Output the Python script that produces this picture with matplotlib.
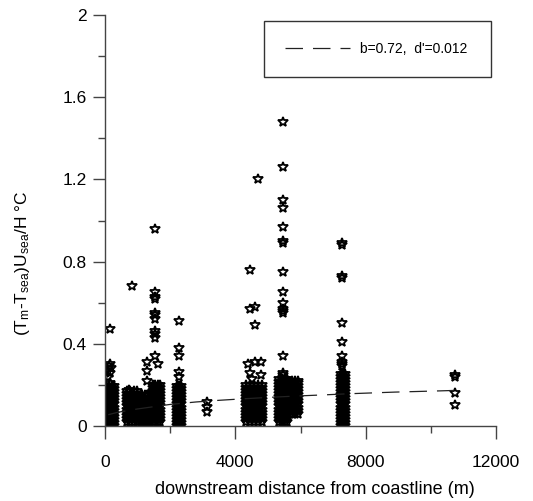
import numpy as np
import matplotlib.pyplot as plt

plt.rcParams['font.family'] = ['Liberation Sans', 'DejaVu Sans']
plt.rcParams['mathtext.fontset'] = 'custom'
plt.rcParams['mathtext.rm'] = 'Liberation Sans'
plt.rcParams['mathtext.it'] = 'Liberation Sans'

# dense bands of stars: x positions (m) and the values stacked at each
band_x_a = [40, 120, 200, 280]
band_y_a = [0.0, 0.015, 0.03, 0.045, 0.06, 0.075, 0.09, 0.105, 0.12, 0.135, 0.15, 0.165, 0.18, 0.195]
band_x_b = [680, 780, 880, 980]
band_y_b = [0.02, 0.035, 0.05, 0.065, 0.08, 0.095, 0.11, 0.125, 0.14, 0.155, 0.17]
band_x_c = [1150, 1240, 1330]
band_y_c = [0.0, 0.015, 0.03, 0.045, 0.06, 0.075, 0.09, 0.105, 0.12, 0.135, 0.15]
band_x_d = [1460, 1540, 1620, 1700]
band_y_d = [0.02, 0.035, 0.05, 0.065, 0.08, 0.095, 0.11, 0.125, 0.14, 0.155, 0.17, 0.185, 0.2]
band_x_e = [2200, 2270, 2340]
band_y_e = [0.0, 0.015, 0.03, 0.045, 0.06, 0.075, 0.09, 0.105, 0.12, 0.135, 0.15, 0.165, 0.18, 0.195]
band_x_g = [4330, 4450, 4570, 4690, 4810]
band_y_g = [0.02, 0.035, 0.05, 0.065, 0.08, 0.095, 0.11, 0.125, 0.14, 0.155, 0.17, 0.185, 0.2]
band_x_i = [5330, 5420, 5510, 5600]
band_y_i = [0.02, 0.035, 0.05, 0.065, 0.08, 0.095, 0.11, 0.125, 0.14, 0.155, 0.17, 0.185, 0.2, 0.215, 0.23]
band_x_k = [5750, 5830, 5910]
band_y_k = [0.06, 0.075, 0.09, 0.105, 0.12, 0.135, 0.15, 0.165, 0.18, 0.195, 0.21, 0.22]
band_x_j = [7240, 7300, 7360]
band_y_j = [0.0, 0.015, 0.03, 0.045, 0.06, 0.075, 0.09, 0.105, 0.12, 0.135, 0.15, 0.165, 0.18, 0.195,
            0.21, 0.225, 0.24, 0.255]

# single stars sitting above the bands
single_x = [150, 150, 100, 150, 100, 180, 120, 150,
            830, 750,
            1280, 1280, 1280, 1280,
            1530, 1530, 1530, 1530, 1530, 1530, 1530, 1530, 1530, 1530, 1530, 1620,
            2260, 2260, 2260, 2260, 2260,
            3120, 3120, 3120,
            4450, 4450, 4600, 4600, 4400, 4450, 4600, 4780, 4780, 4700, 4500,
            5450, 5450, 5450, 5450, 5450, 5450, 5450, 5450, 5450, 5450, 5450, 5450, 5450, 5450, 5450, 5450,
            7280, 7280, 7280, 7280, 7280, 7280, 7280, 7280, 7280, 7280,
            10750, 10750, 10750, 10750]
single_y = [0.47, 0.21, 0.24, 0.26, 0.27, 0.28, 0.29, 0.30,
            0.68, 0.175,
            0.31, 0.27, 0.22, 0.15,
            0.43, 0.45, 0.46, 0.52, 0.54, 0.55, 0.62, 0.63, 0.65, 0.96, 0.34, 0.30,
            0.24, 0.265, 0.34, 0.38, 0.51,
            0.117, 0.094, 0.068,
            0.76, 0.57, 0.58, 0.49, 0.30, 0.26, 0.31, 0.31, 0.25, 1.2, 0.23,
            0.25, 0.26, 0.34, 0.55, 0.56, 0.57, 0.60, 0.65, 0.75, 0.89, 0.90, 0.97, 1.06, 1.10, 1.26, 1.48,
            0.29, 0.30, 0.31, 0.34, 0.41, 0.5, 0.72, 0.73, 0.88, 0.89,
            0.25, 0.24, 0.16, 0.10]

# fitted curve
fit_x = [100, 400, 1000, 2000, 2800, 3500, 4200, 5000, 5900, 6800, 7500, 8200, 8900, 9600, 10300, 10700]
fit_y = [0.055, 0.067, 0.083, 0.105, 0.117, 0.125, 0.132, 0.139, 0.146, 0.152, 0.157, 0.161, 0.165,
         0.168, 0.171, 0.173]

bands = [(band_x_a, band_y_a), (band_x_b, band_y_b), (band_x_c, band_y_c), (band_x_d, band_y_d),
         (band_x_e, band_y_e), (band_x_g, band_y_g), (band_x_i, band_y_i), (band_x_k, band_y_k),
         (band_x_j, band_y_j)]
px, py = [], []
for bx, by in bands:
    for xv in bx:
        for yv in by:
            px.append(xv)
            py.append(yv)
px = px + single_x
py = py + single_y

fig = plt.figure(figsize=(5.33, 5.01), dpi=100)
ax = fig.add_axes([105/533, 75/501, 391/533, 411/501])

ax.plot(px, py, ls='none', marker='*', ms=7.5, mfc='none', mec='black', mew=1.3)
ax.plot(fit_x, fit_y, color='#222222', lw=0.9, dashes=(14, 8), label="b=0.72,  d'=0.012")

ax.set_xlim(0, 12000)
ax.set_ylim(0, 2)
ax.set_xticks([0, 4000, 8000, 12000])
ax.set_xticks([2000, 6000, 10000], minor=True)
ax.set_yticks([0, 0.4, 0.8, 1.2, 1.6, 2])
ax.set_yticklabels(['0', '0.4', '0.8', '1.2', '1.6', '2'])
ax.set_yticks([0.2, 0.6, 1.0, 1.4, 1.8], minor=True)

for s in ['top', 'right']:
    ax.spines[s].set_visible(False)
for s in ['left', 'bottom']:
    ax.spines[s].set_color('#444444')
    ax.spines[s].set_linewidth(1)
ax.tick_params(which='major', length=9, width=1, color='#444444', labelsize=12.5)
ax.tick_params(which='minor', length=5, width=1, color='#444444')
ax.tick_params(axis='x', which='major', pad=12)
ax.tick_params(axis='y', which='major', pad=4)

fig.text(315/533, 1 - 489/501, 'downstream distance from coastline (m)', fontsize=13,
         ha='center', va='center')
fig.text(23/533, 1 - 263/501, '(T$_\\mathrm{m}$-T$_\\mathrm{sea}$)U$_\\mathrm{sea}$/H \u00b0C',
         fontsize=12.5, rotation=90, ha='center', va='center')

leg = ax.legend(loc='upper left', bbox_to_anchor=(0.407, 0.842, 0.58, 0.143), mode='expand',
                fontsize=10, handlelength=4.7, handletextpad=0.7, borderpad=1.5,
                borderaxespad=0, fancybox=False, framealpha=1)
leg.get_frame().set_edgecolor('#333333')
leg.get_frame().set_linewidth(1)

fig.savefig('out.png', dpi=100)
